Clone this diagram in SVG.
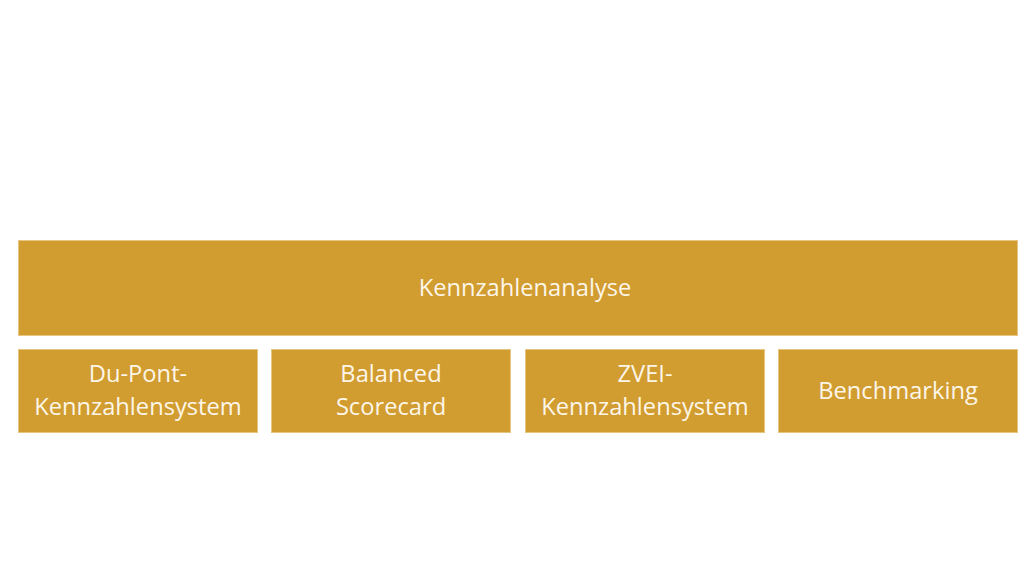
<svg xmlns="http://www.w3.org/2000/svg" width="1024" height="576" viewBox="0 0 1024 576">
<style>
.box{fill:#D19C30;stroke:#E6C580;stroke-width:1}
.t{font-family:"Open Sans","Noto Sans",sans-serif;font-size:23.7px;fill:#FDF6E8;text-anchor:middle}
</style>
<rect width="1024" height="576" fill="#FFFFFF"/>
<g id="n0"><rect class="box" x="18.5" y="240.5" width="999" height="95"/><text class="t" x="525" y="296">Kennzahlenanalyse</text></g>
<g id="n1"><rect class="box" x="18.5" y="349.5" width="239" height="83"/><text class="t" x="138" y="382">Du-Pont-</text><text class="t" x="138" y="415">Kennzahlensystem</text></g>
<g id="n2"><rect class="box" x="271.5" y="349.5" width="239" height="83"/><text class="t" x="391" y="382">Balanced</text><text class="t" x="391" y="415">Scorecard</text></g>
<g id="n3"><rect class="box" x="525.5" y="349.5" width="239" height="83"/><text class="t" x="645" y="382">ZVEI-</text><text class="t" x="645" y="415">Kennzahlensystem</text></g>
<g id="n4"><rect class="box" x="778.5" y="349.5" width="239" height="83"/><text class="t" x="898" y="399">Benchmarking</text></g>
<g id="connectors"></g>
</svg>
